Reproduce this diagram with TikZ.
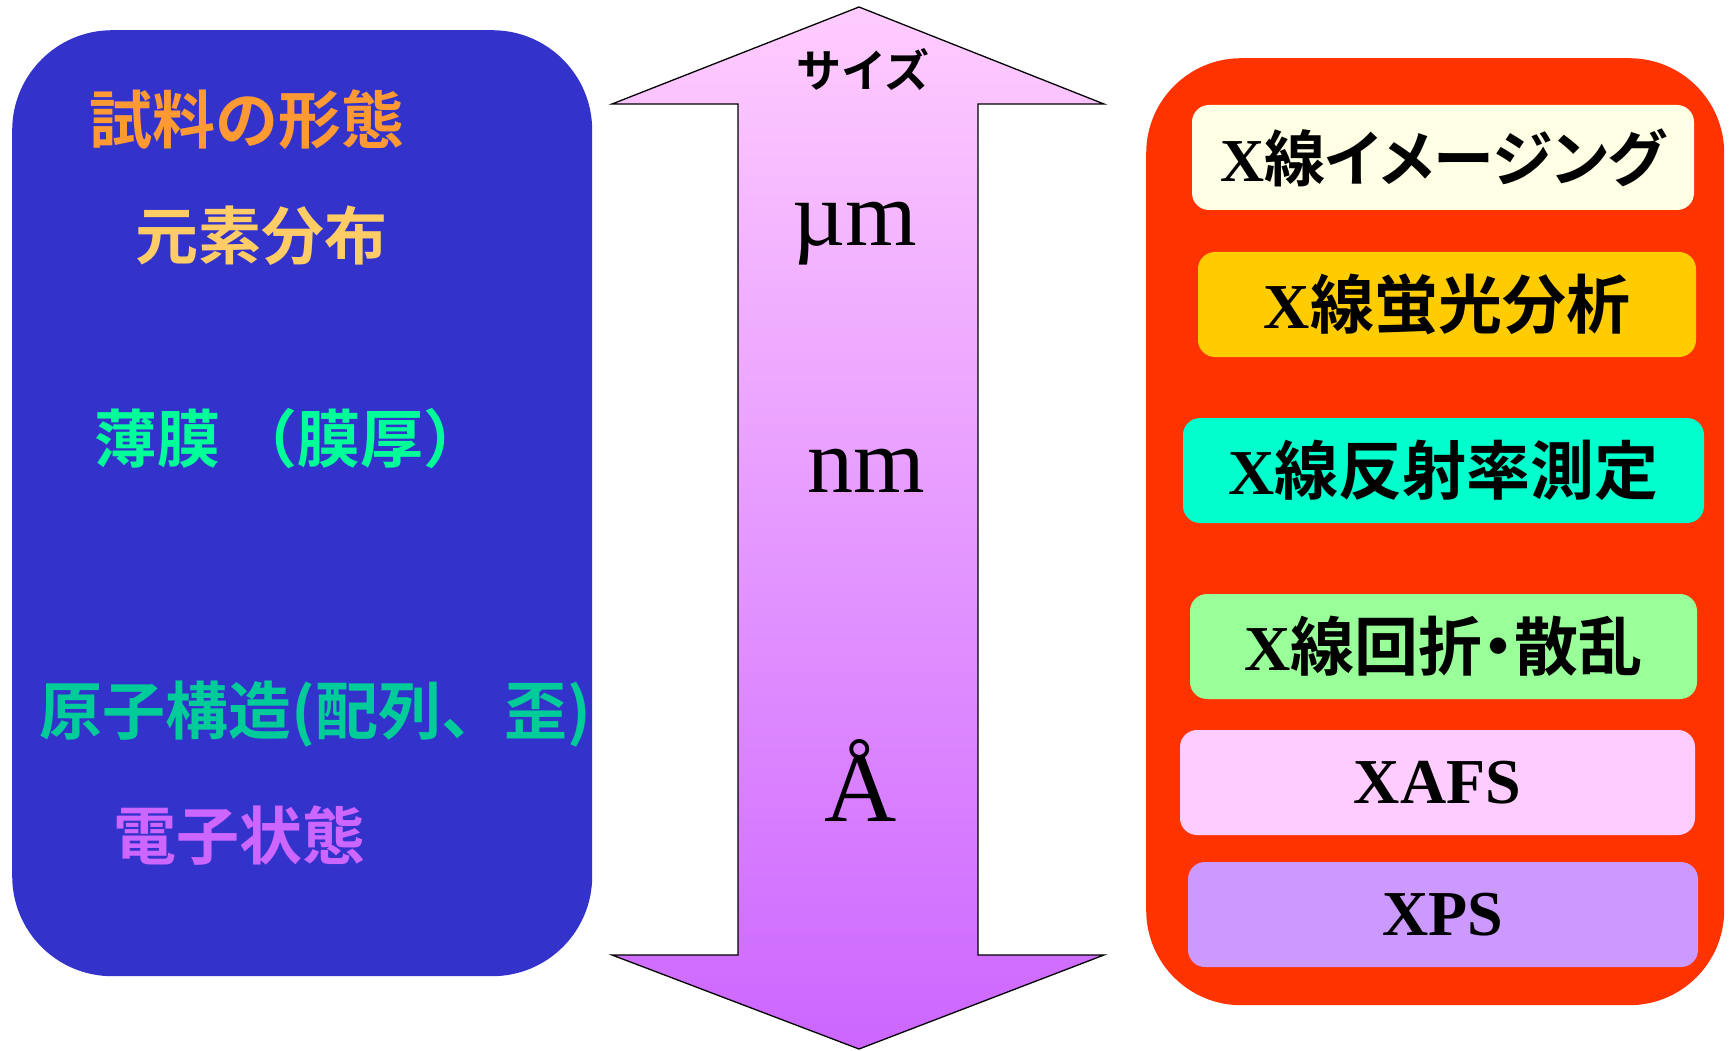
\documentclass[tikz,border=0pt]{standalone}
\usepackage{fontspec}
\newfontfamily\jpf{Noto Sans CJK JP}[BoldFont={Noto Sans CJK JP Bold}]
\newfontfamily\jpp{Noto Sans CJK JP}[BoldFont={Noto Sans CJK JP Bold},RawFeature=+palt]
\newfontfamily\tmf{Liberation Serif}
\definecolor{blueb}{HTML}{3333CC}
\definecolor{redb}{HTML}{FF3300}
\definecolor{arrtop}{HTML}{FFCCFF}
\definecolor{arrbot}{HTML}{CC66FF}
\definecolor{cOrange}{HTML}{FF9933}
\definecolor{cLight}{HTML}{FFCC66}
\definecolor{cGreen}{HTML}{00FF99}
\definecolor{cTeal}{HTML}{00CC99}
\definecolor{cViolet}{HTML}{CC66FF}
\definecolor{b1}{HTML}{FFFFE5}
\definecolor{b2}{HTML}{FFCC00}
\definecolor{b3}{HTML}{00FFCC}
\definecolor{b4}{HTML}{99FF99}
\definecolor{b5}{HTML}{FFCCFF}
\definecolor{b6}{HTML}{CC99FF}
\newcommand{\Xb}{{\tmf\bfseries X}}
\begin{document}
\begin{tikzpicture}[x=1pt,y=-1pt,
  bigbox/.style={rounded corners=#1, inner sep=0pt, anchor=north west},
  lefttext/.style={anchor=west, inner sep=0pt, font=\jpf\bfseries\fontsize{63}{70}\selectfont},
  method/.style={fill=#1, rounded corners=17pt, inner sep=0pt, minimum height=105pt,
     font=\fontsize{64}{70}\selectfont, text=black},
  unit/.style={anchor=base, inner sep=0pt, font=\tmf\fontsize{92}{100}\selectfont}
]
\useasboundingbox (0,0) rectangle (1735,1051);
% left box
\node[bigbox=100pt, fill=blueb, minimum width=580pt, minimum height=946pt] (leftbox) at (12,30) {};
\node[lefttext, text=cOrange] (t1) at (89,120) {試料の形態};
\node[lefttext, text=cLight] (t2) at (135,236) {元素分布};
\node[lefttext, text=cGreen] (t3) at (94,439) {薄膜 （膜厚）};
\node[lefttext, text=cTeal] (t4) at (39,714) {原子構造(配列、歪)};
\node[lefttext, text=cViolet] (t5) at (113,835) {電子状態};
% arrow
\path[draw=black, line width=1.3pt, line join=miter, top color=arrtop, bottom color=arrbot]
  (859,7) -- (1104,104) -- (978,104) -- (978,955) -- (1104,955) -- (859,1049)
  -- (612,955) -- (738,955) -- (738,104) -- (612,104) -- cycle;
\node[anchor=base, inner sep=0pt, font=\jpf\bfseries\fontsize{45}{50}\selectfont] (size) at (863,88) {サイズ};
\node[unit] (um) at (855,246) {µm};
\node[unit] (nm) at (866,492) {nm};
\node[unit, font=\tmf\fontsize{100}{110}\selectfont] (ang) at (861,821) {Å};
% right box
\node[bigbox=95pt, fill=redb, minimum width=578pt, minimum height=947pt] (rightbox) at (1146,58) {};
\node[method=b1, minimum width=502pt, font=\fontsize{61}{66}\selectfont] (m1) at (1443,157.5) {\Xb{\jpp\bfseries 線イメージング}};
\node[method=b2, minimum width=498pt] (m2) at (1447,304.5) {\Xb{\jpf\bfseries 線蛍光分析}};
\node[method=b3, minimum width=521pt] (m3) at (1443.5,470.5) {\Xb{\jpf\bfseries 線反射率測定}};
\node[method=b4, minimum width=507pt] (m4) at (1443.5,646.5) {\Xb{\jpp\bfseries 線回折・散乱}};
\node[method=b5, minimum width=515pt] (m5) at (1437.5,782.5) {{\tmf\bfseries XAFS}};
\node[method=b6, minimum width=510pt] (m6) at (1443,914.5) {{\tmf\bfseries XPS}};
\end{tikzpicture}
\end{document}
